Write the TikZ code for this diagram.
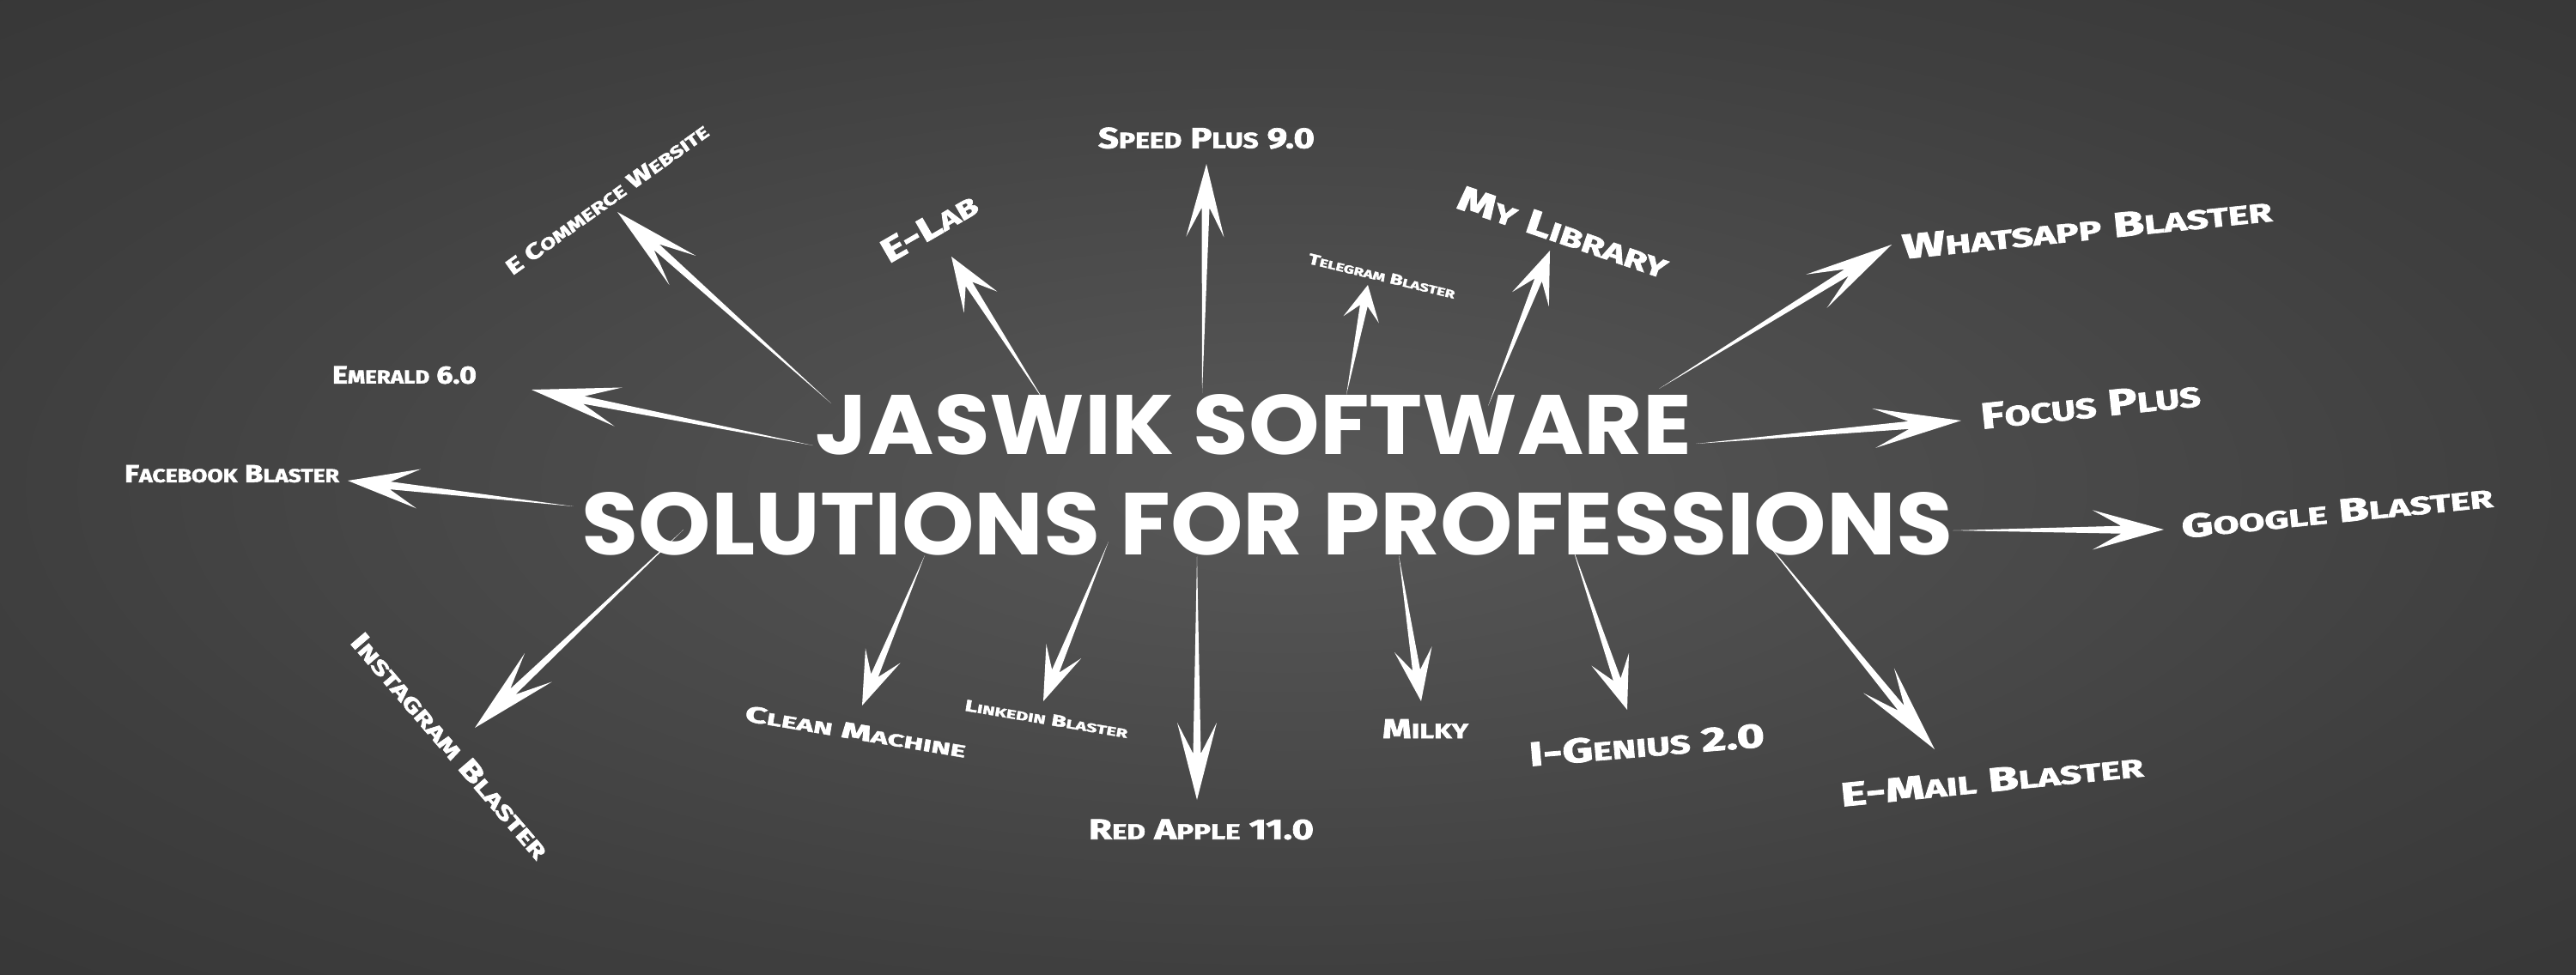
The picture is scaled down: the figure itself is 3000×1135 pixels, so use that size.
\documentclass[tikz,border=0pt]{standalone}
\usepackage{fontspec}
\usepackage{graphicx}
\usetikzlibrary{calc}

\newfontfamily\titlefont{Poppins}
\newfontfamily\lblfont{Fira Sans}[BoldFeatures={FakeBold=2}]

\definecolor{bgin}{RGB}{88,88,88}
\definecolor{bgmid}{RGB}{63,63,63}
\definecolor{bgout}{RGB}{55,55,55}
\pgfdeclareradialshading{vignette}{\pgfpoint{0bp}{0bp}}{%
    color(0bp)=(bgin); color(25bp)=(bgmid); color(36bp)=(bgout); color(50bp)=(bgout)}

% 1 px of the picture
\newlength\pxu \setlength\pxu{0.01cm}
\newcommand\fitlbl[3]{\resizebox{#1\pxu}{#2\pxu}{\fontsize{10}{12}\selectfont #3}}
\newcommand\smc[1]{{\fontsize{7.6}{9}\selectfont #1}}

% tapered arrow: from, to, head length, head half width
\newcommand\tarrow[4]{%
    \path ($(#2)!#3!(#1)$) coordinate (hb)
          ($(#2)!0.6*#3!(#1)$) coordinate (hn);
    \fill [white] (#1) -- ($(hn)!0.045cm!90:(#2)$) -- ($(hb)!#4!90:(#2)$) -- (#2)
        -- ($(hb)!#4!-90:(#2)$) -- ($(hn)!0.045cm!-90:(#2)$) -- cycle;
}

\begin{document}
\begin{tikzpicture}[x=0.01cm, y=-0.01cm,
    lbl/.style={text=white, inner sep=0pt, font=\lblfont\bfseries},
    ttl/.style={text=white, inner sep=0pt, font=\titlefont\bfseries}]
    % background
    \shade [shading=vignette] (0, 0) rectangle (3000, 1135);
    \useasboundingbox (0, 0) rectangle (3000, 1135);

    %% arrow ends
    \coordinate (sEcom)     at (968, 470);   \coordinate (tEcom)     at (719, 247);
    \coordinate (sEmerald)  at (947, 519);   \coordinate (tEmerald)  at (619, 454);
    \coordinate (sFacebook) at (668, 590);   \coordinate (tFacebook) at (405, 560);
    \coordinate (sInsta)    at (796, 617);   \coordinate (tInsta)    at (553, 848);
    \coordinate (sClean)    at (1077, 647);  \coordinate (tClean)    at (1004, 822);
    \coordinate (sLinkedin) at (1291, 631);  \coordinate (tLinkedin) at (1215, 817);
    \coordinate (sApple)    at (1394, 648);  \coordinate (tApple)    at (1394, 932);
    \coordinate (sMilky)    at (1629, 647);  \coordinate (tMilky)    at (1655, 817);
    \coordinate (sGenius)   at (1831, 637);  \coordinate (tGenius)   at (1895, 827);
    \coordinate (sEmail)    at (2050, 623);  \coordinate (tEmail)    at (2253, 873);
    \coordinate (sGoogle)   at (2274, 618);  \coordinate (tGoogle)   at (2520, 617);
    \coordinate (sFocus)    at (1975, 517);  \coordinate (tFocus)    at (2284, 490);
    \coordinate (sWhatsapp) at (1932, 453);  \coordinate (tWhatsapp) at (2203, 285);
    \coordinate (sLibrary)  at (1733, 473);  \coordinate (tLibrary)  at (1805, 292);
    \coordinate (sTelegram) at (1568, 460);  \coordinate (tTelegram) at (1593, 332);
    \coordinate (sSpeed)    at (1400, 458);  \coordinate (tSpeed)    at (1405, 191);
    \coordinate (sElab)     at (1217, 469);  \coordinate (tElab)     at (1108, 299);

    %% arrows
    \foreach \s/\t/\l/\w in {sEcom/tEcom/1.02cm/0.23cm, sEmerald/tEmerald/1.03cm/0.23cm,
        sFacebook/tFacebook/0.83cm/0.23cm, sInsta/tInsta/1.02cm/0.23cm,
        sClean/tClean/0.63cm/0.22cm, sLinkedin/tLinkedin/0.63cm/0.22cm,
        sApple/tApple/0.90cm/0.23cm, sMilky/tMilky/0.61cm/0.22cm,
        sGenius/tGenius/0.62cm/0.23cm, sEmail/tEmail/1.03cm/0.23cm,
        sGoogle/tGoogle/0.83cm/0.23cm, sFocus/tFocus/1.02cm/0.23cm,
        sWhatsapp/tWhatsapp/1.03cm/0.23cm, sLibrary/tLibrary/0.61cm/0.23cm,
        sTelegram/tTelegram/0.41cm/0.21cm, sSpeed/tSpeed/0.85cm/0.22cm,
        sElab/tElab/0.63cm/0.23cm} {
        \tarrow{\s}{\t}{\l}{\w}
    }

    %% title
    \node [ttl] (jaswik) at (1460, 495) {\fitlbl{1020}{70}{JASWIK SOFTWARE}};
    \node [ttl] (solutions) at (1476, 610.5) {\fitlbl{1596}{73}{SOLUTIONS FOR PROFESSIONS}};

    %% labels
    \node [lbl, rotate=35.5] (ecom) at (707, 232) {\fitlbl{283}{18}{E C\smc{OMMERCE} W\smc{EBSITE}}};
    \node [lbl] (emerald) at (471, 437) {\fitlbl{168}{20}{E\smc{MERALD} 6.0}};
    \node [lbl] (facebook) at (270, 552) {\fitlbl{250}{20}{F\smc{ACEBOOK} B\smc{LASTER}}};
    \node [lbl, rotate=-49.4] (insta) at (524, 869) {\fitlbl{335}{22}{I\smc{NSTAGRAM} B\smc{LASTER}}};
    \node [lbl, rotate=-9.5] (clean) at (996.5, 852.4) {\fitlbl{260}{18.5}{C\smc{LEAN} M\smc{ACHINE}}};
    \node [lbl, rotate=-9.6] (linkedin) at (1218.6, 837.6) {\fitlbl{192}{13}{L\smc{INKEDIN} B\smc{LASTER}}};
    \node [lbl] (apple) at (1399, 966.5) {\fitlbl{262}{23}{R\smc{ED} A\smc{PPLE} 11.0}};
    \node [lbl] (milky) at (1660, 849) {\fitlbl{100}{22}{M\smc{ILKY}}};
    \node [lbl, rotate=4.8] (genius) at (1917.8, 867.6) {\fitlbl{275}{28}{I-G\smc{ENIUS} 2.0}};
    \node [lbl, rotate=5.7] (email) at (2319.7, 909) {\fitlbl{354}{27}{E-M\smc{AIL} B\smc{LASTER}}};
    \node [lbl, rotate=5.7] (google) at (2721.7, 595.6) {\fitlbl{364}{27}{G\smc{OOGLE} B\smc{LASTER}}};
    \node [lbl, rotate=6] (focus) at (2434.5, 472) {\fitlbl{257}{29.5}{F\smc{OCUS} P\smc{LUS}}};
    \node [lbl, rotate=5.85] (whatsapp) at (2430.6, 266) {\fitlbl{432}{28}{W\smc{HATSAPP} B\smc{LASTER}}};
    \node [lbl, rotate=-18.9] (library) at (1820.5, 270.3) {\fitlbl{256}{28}{M\smc{Y} L\smc{IBRARY}}};
    \node [lbl, rotate=-13.6] (telegram) at (1609.4, 321.7) {\fitlbl{175}{12}{T\smc{ELEGRAM} B\smc{LASTER}}};
    \node [lbl] (speed) at (1405, 161) {\fitlbl{252}{24}{S\smc{PEED} P\smc{LUS} 9.0}};
    \node [lbl, rotate=30] (elab) at (1082, 265) {\fitlbl{123}{27}{E-L\smc{AB}}};
\end{tikzpicture}
\end{document}
